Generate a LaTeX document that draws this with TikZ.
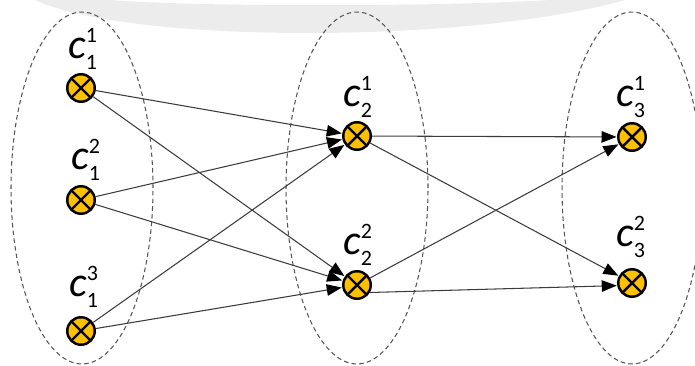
\documentclass[tikz,border=0pt]{standalone}
\usepackage{amsmath}
\usepackage{fontspec}
\setmainfont{Carlito}
\usetikzlibrary{arrows.meta}
\definecolor{unitfill}{HTML}{FFC000}
\definecolor{edgegray}{HTML}{3C3C3C}
\definecolor{groupgray}{HTML}{555555}
\definecolor{swoosh}{HTML}{ECECEC}

% name of a unit: italic c, layer as subscript, index as superscript
\newcommand\unitlbl[2]{$\text{\itshape c}%
  ^{\text{\fontsize{12.5}{12.5}\selectfont #2}}%
  _{\text{\fontsize{12.5}{12.5}\selectfont #1}}$}

\begin{document}
\begin{tikzpicture}[x=0.02cm, y=-0.02cm,
  unit/.style={circle, draw=black, line width=1.4pt, fill=unitfill,
    minimum size=0.55cm, inner sep=0pt,
    path picture={\draw[line width=1.4pt]
      (path picture bounding box.south west) -- (path picture bounding box.north east)
      (path picture bounding box.north west) -- (path picture bounding box.south east);}},
  tag/.style={font=\fontsize{24}{28}\selectfont, inner sep=0pt},
  group/.style={draw=groupgray, line width=0.6pt, dash pattern=on 2.6pt off 1.8pt},
  link/.style={draw=edgegray, line width=0.6pt,
    -{Triangle[length=0.3cm, width=0.23cm, color=black]}, shorten >=0.3pt}
]
\useasboundingbox (0,0) rectangle (695,365);

% light grey swoosh along the top edge
\fill[swoosh] (35,0) .. controls (130,44) and (470,44) .. (625,0)
  -- (550,0) .. controls (430,7) and (200,7) .. (110,0) -- cycle;

% dashed groups, one per layer
\draw[group] (82,188) ellipse [x radius=1.42cm, y radius=3.52cm];
\draw[group] (357,188) ellipse [x radius=1.42cm, y radius=3.52cm];
\draw[group] (632,188) ellipse [x radius=1.40cm, y radius=3.52cm];

% units
\node[unit] (c11) at (81,88) {};
\node[unit] (c12) at (81,200) {};
\node[unit] (c13) at (81,331) {};
\node[unit] (c21) at (357,136) {};
\node[unit] (c22) at (357,285) {};
\node[unit] (c31) at (632,137) {};
\node[unit] (c32) at (632,283) {};

% unit names
\node[tag] (t11) at (83,49) {\unitlbl{1}{1}};
\node[tag] (t12) at (86,160) {\unitlbl{1}{2}};
\node[tag] (t13) at (84,287) {\unitlbl{1}{3}};
\node[tag] (t21) at (358,97) {\unitlbl{2}{1}};
\node[tag] (t22) at (358,245) {\unitlbl{2}{2}};
\node[tag] (t31) at (631,97) {\unitlbl{3}{1}};
\node[tag] (t32) at (631,237) {\unitlbl{3}{2}};

% connections, layer 1 to layer 2
\draw[link] (c11) -- (c21);
\draw[link] (c11) -- (c22);
\draw[link] (c12) -- (c21);
\draw[link] (c12) -- (c22);
\draw[link] (c13) -- (c21);
\draw[link] (c13) -- (c22);

% connections, layer 2 to layer 3
\draw[link] (c21) -- (c31);
\draw[link] (c21) -- (c32);
\draw[link] (c22) -- (c31);
\draw[link] (c22.-30) -- (c32.190);
\end{tikzpicture}
\end{document}
